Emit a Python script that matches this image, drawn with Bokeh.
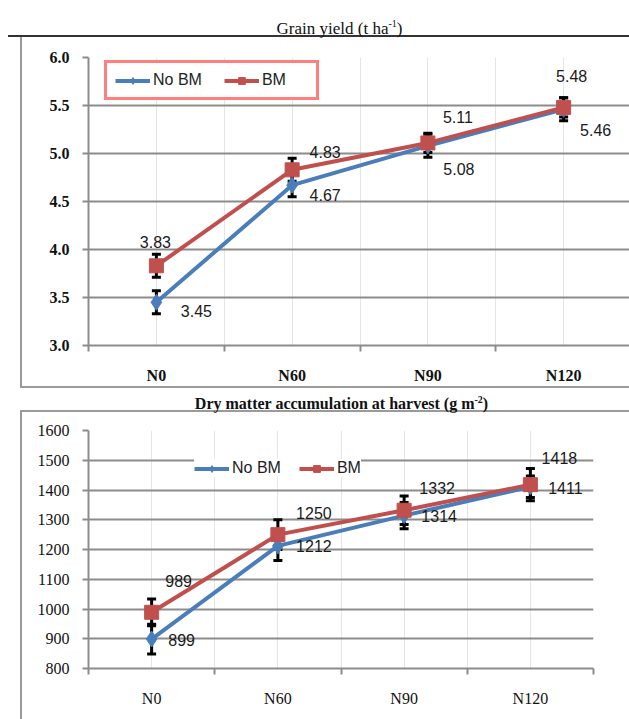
from bokeh.plotting import figure
from bokeh.models import (ColumnDataSource, Range1d, LinearAxis, FixedTicker,
                          NumeralTickFormatter, Legend, LegendItem, Whisker,
                          TeeHead, Div, SingleIntervalTicker)
from bokeh.layouts import column
from bokeh.core.properties import value
from bokeh.embed import file_html
from bokeh.resources import INLINE

# ---------------- data ----------------
categories = ["N0", "N60", "N90", "N120"]

grain_nobm = [3.45, 4.67, 5.08, 5.46]
grain_bm = [3.83, 4.83, 5.11, 5.48]
grain_nobm_err = [0.12, 0.12, 0.12, 0.12]
grain_bm_err = [0.12, 0.12, 0.10, 0.10]

dm_nobm = [899, 1212, 1314, 1411]
dm_bm = [989, 1250, 1332, 1418]
dm_nobm_err = [50, 49, 44, 36]
dm_bm_err = [45, 50, 48, 54]

series_names = ["No BM", "BM"]

# ---------------- styles ----------------
BLUE = "#4a7ebb"
RED = "#c0504d"
GRID = "#8c8c8c"
SERIF = "Liberation Serif"
SANS = "Liberation Sans"

# label offsets in pixels (x right, y down)
grain_bm_dx = [-1, 33, 30, 8]
grain_bm_dy = [-24, -18, -26, -31]
grain_nobm_dx = [40, 33, 31, 32]
grain_nobm_dy = [9, 10, 23, 21]
dm_bm_dx = [27, 36, 33, 29]
dm_bm_dy = [-31, -22, -22, -27]
dm_nobm_dx = [30, 36, 35, 35]
dm_nobm_dy = [1, 0, 0, 1]

n_cat = len(categories)
# category slot centres on a category-index scale (slot i spans i..i+1)
cat_pos = [i + 0.5 for i in range(n_cat)]


def make_chart(width, height, y_range, y_step, nobm, bm, nobm_err, bm_err,
               nobm_dx, nobm_dy, bm_dx, bm_dy, borders, label_bold, legend_loc,
               legend_box, fmt):
    p = figure(x_range=Range1d(0, n_cat), y_range=Range1d(*y_range),
               width=width, height=height,
               output_backend="svg", toolbar_location=None, x_axis_location=None,
               min_border_left=borders[0], min_border_right=borders[1],
               min_border_top=borders[2], min_border_bottom=borders[3])
    if "frame_align" in p.properties():
        p.frame_align = False
    p.outline_line_color = None
    p.background_fill_color = "white"
    p.border_fill_color = "white"

    # y axis
    ya = p.yaxis[0]
    ya.ticker = SingleIntervalTicker(interval=y_step)
    ya.formatter = NumeralTickFormatter(format=fmt)
    ya.axis_line_color = GRID
    ya.axis_line_width = 2
    ya.major_tick_line_color = GRID
    ya.major_tick_line_width = 2
    ya.major_tick_out = 6
    ya.major_tick_in = 0
    ya.minor_tick_line_color = None
    ya.major_label_standoff = 13
    ya.major_label_text_font = SERIF
    ya.major_label_text_font_size = "16px"
    ya.major_label_text_font_style = "bold" if label_bold else "normal"
    ya.major_label_text_color = "#111111"

    p.ygrid.grid_line_color = GRID
    p.ygrid.grid_line_width = 2
    p.ygrid.ticker = SingleIntervalTicker(interval=y_step)

    # x axis: labels at category centres, tick marks at category edges
    xa = LinearAxis(ticker=FixedTicker(ticks=cat_pos,
                                       minor_ticks=[i for i in range(n_cat + 1)]),
                    major_label_overrides={pos: c for pos, c in zip(cat_pos, categories)})
    xa.axis_line_color = GRID
    xa.axis_line_width = 2
    xa.major_tick_line_color = None
    xa.major_tick_out = 6
    xa.major_tick_in = 0
    xa.minor_tick_line_color = GRID
    xa.minor_tick_line_width = 2
    xa.minor_tick_out = 6
    xa.minor_tick_in = 0
    xa.major_label_standoff = 15
    xa.major_label_text_font = SERIF
    xa.major_label_text_font_size = "16px"
    xa.major_label_text_font_style = "bold" if label_bold else "normal"
    xa.major_label_text_color = "#111111"
    p.add_layout(xa, "below")

    def src(vals, errs, dx, dy):
        return ColumnDataSource(dict(
            x=cat_pos, cat=categories, y=vals,
            lo=[v - e for v, e in zip(vals, errs)],
            hi=[v + e for v, e in zip(vals, errs)],
            lab=[f"{v:g}" if fmt == "0" else f"{v:.2f}" for v in vals],
            dx=dx, dy=dy))

    src_n = src(nobm, nobm_err, nobm_dx, nobm_dy)
    src_b = src(bm, bm_err, bm_dx, bm_dy)

    ln = p.line("x", "y", source=src_n, line_color=BLUE, line_width=4)
    lb = p.line("x", "y", source=src_b, line_color=RED, line_width=4)

    for s in (src_n, src_b):
        w = Whisker(base="x", lower="lo", upper="hi", source=s, dimension="height",
                    line_color="black", line_width=3,
                    upper_head=TeeHead(size=9, line_width=3, line_color="black"),
                    lower_head=TeeHead(size=9, line_width=3, line_color="black"))
        p.add_layout(w)

    mn = p.scatter("x", "y", source=src_n, marker="diamond", size=16,
                   fill_color=BLUE, line_color=BLUE)
    mb = p.scatter("x", "y", source=src_b, marker="square", size=14,
                   fill_color=RED, line_color=RED)

    for s in (src_n, src_b):
        p.text("x", "y", text="lab", source=s, x_offset="dx", y_offset="dy",
               text_align="center", text_baseline="middle",
               text_font=value(SANS), text_font_size="16px", text_color="#1a1a1a")

    legend = Legend(items=[LegendItem(label=series_names[0], renderers=[ln, mn]),
                           LegendItem(label=series_names[1], renderers=[lb, mb])],
                    orientation="horizontal", location=legend_loc,
                    glyph_width=35, glyph_height=17, label_height=17, label_standoff=3,
                    label_text_font=SANS, label_text_font_size="16px",
                    label_text_color="#222222", background_fill_color="white",
                    background_fill_alpha=1.0)
    if legend_box:
        legend.border_line_color = "#ff0000"
        legend.border_line_width = 3
        legend.padding = 8
        legend.spacing = 22
        legend.label_width = 46
    else:
        legend.border_line_color = None
        legend.padding = 4
        legend.spacing = 18
    p.add_layout(legend, "center")
    return p


title1 = Div(text='<div style="width:621px;box-sizing:border-box;text-align:center;padding-left:42px;'
                  'font-family:\'Liberation Serif\';font-size:17px;color:#111;line-height:18px;'
                  'padding-top:7px;">Grain yield (t ha<sup style="font-size:10px;">-1</sup>)</div>',
             width=621, height=29, margin=(0, 0, 0, 0),
             styles={"border-bottom": "2px solid #333333", "box-sizing": "border-box"})

p1 = make_chart(609, 349, (3.0, 6.0), 0.5, grain_nobm, grain_bm, grain_nobm_err, grain_bm_err,
                grain_nobm_dx, grain_nobm_dy, grain_bm_dx, grain_bm_dy,
                (66, 0, 20, 40), True, (16, 245), True, "0.0")
p1.margin = (0, 0, 0, 12)
p1.styles = {"border-left": "2px solid #9a9a9a", "box-sizing": "border-box"}

title2 = Div(text='<div style="width:609px;box-sizing:border-box;text-align:center;padding-left:34px;'
                  'font-family:\'Liberation Serif\';font-weight:bold;font-size:16px;color:#111;'
                  'line-height:18px;padding-top:3px;">'
                  'Dry matter accumulation at harvest (g m<sup style="font-size:10px;">-2</sup>)</div>',
             width=609, height=26, margin=(0, 0, 0, 12),
             styles={"border-top": "2px solid #9a9a9a", "border-bottom": "2px solid #9a9a9a",
                     "box-sizing": "border-box"})

p2 = make_chart(609, 307, (800, 1600), 100, dm_nobm, dm_bm, dm_nobm_err, dm_bm_err,
                dm_nobm_dx, dm_nobm_dy, dm_bm_dx, dm_bm_dy,
                (66, 38, 18, 51), False, (106, 191), False, "0")
p2.margin = (0, 0, 0, 12)
p2.styles = {"border-left": "2px solid #9a9a9a", "box-sizing": "border-box"}

layout = column(title1, p1, title2, p2, spacing=0, margin=(8, 0, 0, 8))

open("out.html", "w").write(file_html(layout, INLINE))
